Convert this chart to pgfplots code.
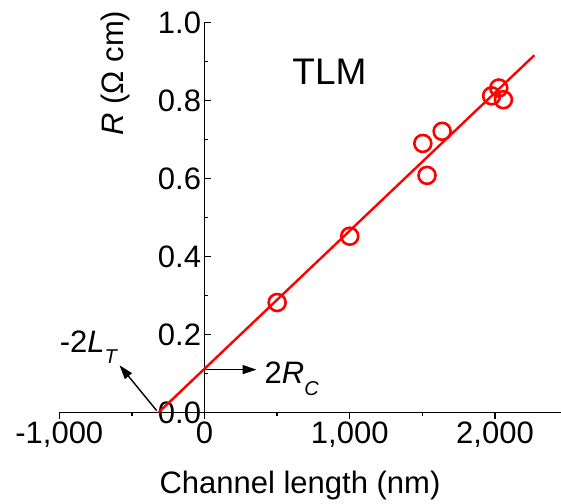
\documentclass[border=0pt]{standalone}
\usepackage{fontspec}
\setmainfont{Liberation Sans}
\usepackage{pgfplots}
\pgfplotsset{compat=1.18}
\usetikzlibrary{calc,arrows.meta}

\newcommand{\lblfont}{\fontsize{31}{36}\selectfont}

\begin{document}
\begin{tikzpicture}
\begin{axis}[
    scale only axis,
    width=502.5pt, height=390pt,
    xmin=-1000, xmax=2460,
    ymin=0, ymax=1.0,
    axis x line=middle, axis y line=middle,
    axis line style={-, line width=1.4pt, black},
    hide obscured x ticks=false, hide obscured y ticks=false,
    clip=false,
    xtick={-1000,0,1000,2000},
    minor xtick={-500,500,1500},
    ytick={0,0.2,0.4,0.6,0.8,1.0},
    minor ytick={0.1,0.3,0.5,0.7,0.9},
    xtick align=outside, ytick align=inside,
    major tick length=6pt, minor tick length=3.5pt,
    every tick/.style={black, line width=1.4pt},
    /pgf/number format/assume math mode=true,
    tick label style={font=\lblfont},
    x tick label style={/pgf/number format/1000 sep={,}},
    y tick label style={/pgf/number format/.cd, fixed, fixed zerofill, precision=1},
    xlabel={Channel length (nm)},
    xlabel style={at={(axis description cs:0.479,-0.187)}, anchor=center, font=\lblfont},
    ylabel={\textit{R} (Ω cm)},
    ylabel style={at={(axis description cs:0.111,0.87)}, anchor=center, rotate=90, font=\lblfont},
]
% measured points
\addplot[only marks, mark=o, color=red, mark size=8.5pt, line width=2.6pt]
    coordinates {
     (500,0.282)(1000,0.452)(1503,0.690)(1532,0.608)(1636,0.721)(1977,0.812)(2026,0.832)(2058,0.802)
    };
% linear fit
\addplot[color=red, line width=2.4pt]
    coordinates {
     (-317,0)(2271,0.916)
    };

\draw[-{Triangle[length=14pt,width=9pt]}, line width=1.4pt] (axis cs:-330,0.005) -- (axis cs:-585,0.121);
\draw[-{Triangle[length=14pt,width=9pt]}, line width=1.4pt] (axis cs:0,0.110) -- (axis cs:358,0.110);

\node[anchor=base west, inner sep=0, font=\lblfont] at (axis cs:-998,0.154)
    {-2\textit{L}\raisebox{-11pt}{\fontsize{20}{20}\selectfont\textit{T}}};
\node[anchor=base west, inner sep=0, font=\lblfont] at (axis cs:413,0.074)
    {2\textit{R}\raisebox{-12pt}{\fontsize{20}{20}\selectfont\textit{C}}};
\node[anchor=base west, inner sep=0, font=\fontsize{37}{44}\selectfont] at (axis cs:604,0.841) {TLM};

\coordinate (O) at (axis cs:-1000,0);
\end{axis}
\pgfresetboundingbox
\path[use as bounding box] ($(O)+(-59.3pt,-90.5pt)$) rectangle ($(O)+(501.7pt,412.5pt)$);
\end{tikzpicture}
\end{document}
